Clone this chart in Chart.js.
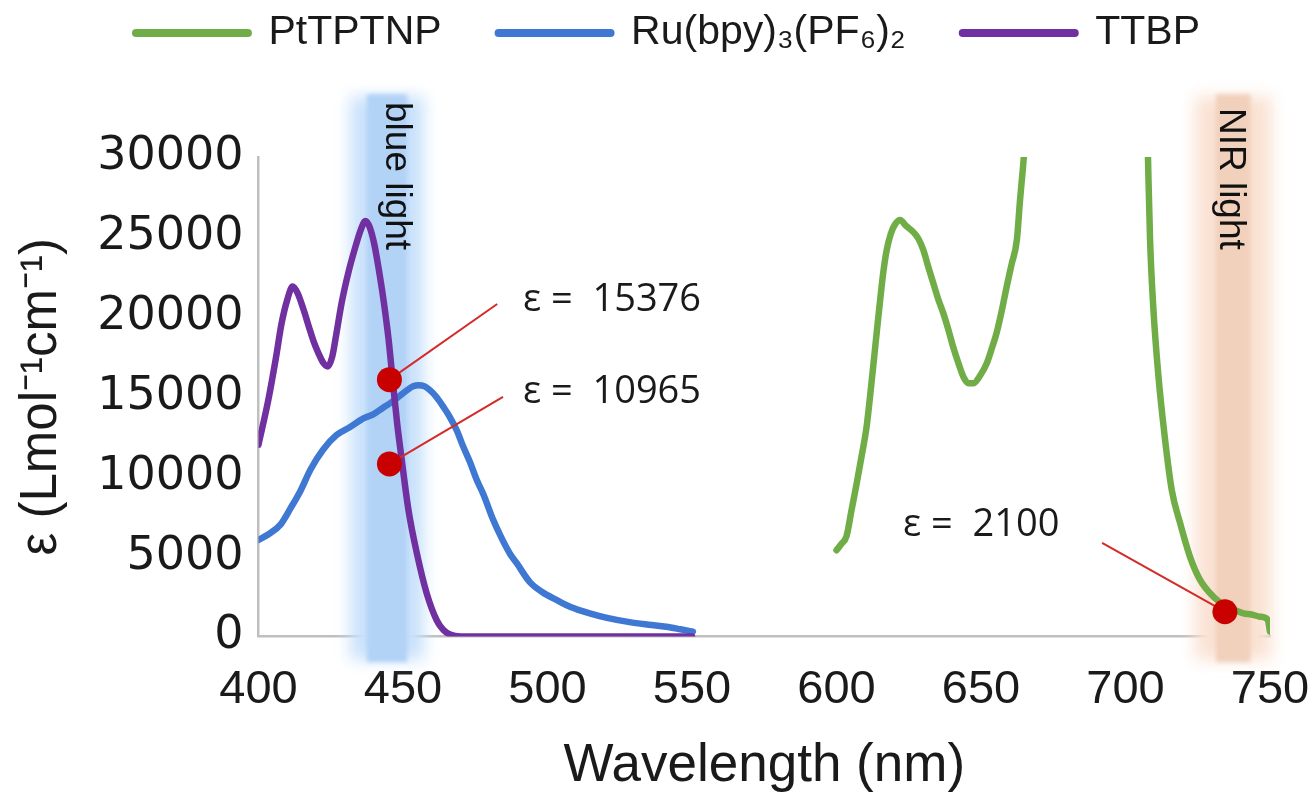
<!DOCTYPE html>
<html>
<head>
<meta charset="utf-8">
<script src="https://cdn.jsdelivr.net/npm/chart.js@4.4.1/dist/chart.umd.min.js"></script>
<style>
html,body{margin:0;padding:0;background:#fff;overflow:hidden}
#wrap{width:1314px;height:795px;position:relative}
</style>
</head>
<body>
<div id="wrap"><canvas id="c" width="1314" height="795"></canvas></div>
<script>
// ---------- data ----------
const seriesNames = ['PtTPTNP', 'Ru(bpy)\u2083(PF\u2086)\u2082', 'TTBP'];

const pttptnpWavelength = [600, 601.5, 603.5, 605.2, 607, 608.7, 610.4, 611.6, 612.7, 613.9, 615.1, 616.2, 617.4, 618.8, 620.3, 622, 624, 626.6, 628.3, 630, 631.8, 633.5, 635.2, 637, 638.7, 640.4, 642.2, 643.9, 645.6, 647.3, 649.6, 652, 653.7, 655.4, 657.2, 658.9, 660.6, 662.4, 663.5, 664.5, 665.5, 686, 707.6, 707.9, 708.5, 709.6, 711.3, 713.7, 716, 718.9, 722.3, 725.8, 730.4, 735, 737.8, 740.8, 743.6, 746.5, 749.2, 750];
const pttptnpEpsilon = [5400, 5750, 6300, 7900, 9600, 11300, 13100, 15000, 16900, 19000, 21050, 22800, 24200, 25200, 25800, 26060, 25700, 25300, 24900, 24200, 23100, 22100, 21100, 20200, 19200, 18100, 17100, 16250, 15850, 15840, 16300, 17100, 18000, 19000, 20400, 21900, 23300, 24800, 27300, 29300, 31500, null, 31500, 29000, 24800, 20650, 16480, 12300, 9170, 7090, 5000, 3540, 2490, 1870, 1650, 1450, 1380, 1240, 1050, 300];

const ruWavelength = [400, 403.5, 407.6, 411, 414.5, 418, 422.4, 427, 431.7, 436.3, 439.7, 443, 445.6, 448.5, 451.3, 453.5, 455.3, 457.5, 459.4, 461.5, 464, 466.3, 468.6, 470.9, 473.2, 475.5, 477.8, 481.2, 484, 487, 489.3, 493.9, 498, 503.1, 508, 514.6, 521, 528.4, 535, 541.1, 546, 550.3];
const ruEpsilon = [6050, 6400, 7000, 8000, 9110, 10450, 11700, 12600, 13100, 13650, 13900, 14300, 14600, 15000, 15400, 15650, 15720, 15650, 15400, 15000, 14360, 13700, 12900, 11850, 10900, 9800, 8900, 7300, 6200, 5180, 4600, 3400, 2800, 2290, 1850, 1450, 1150, 900, 740, 610, 450, 300];

const ttbpWavelength = [400, 403.4, 406, 408, 410, 411.8, 413.5, 415.5, 417.4, 419, 420.8, 422.5, 424, 425.5, 427, 428.8, 431, 433.4, 435.5, 437, 438.5, 440, 441.5, 443.3, 445, 446.5, 448, 449.6, 451.9, 454.8, 458.2, 461.7, 464, 466.3, 470, 480, 500, 525, 550];
const ttbpEpsilon = [12000, 14800, 17400, 19600, 21100, 21900, 21500, 20500, 19400, 18500, 17700, 17100, 16900, 17500, 19000, 20900, 22700, 24300, 25500, 26000, 25600, 24600, 23100, 21000, 18600, 15900, 13300, 11000, 7900, 5200, 2700, 1000, 400, 120, 0, 0, 0, 0, 0];

const xTickValues = [400, 450, 500, 550, 600, 650, 700, 750];
const yTickValues = [0, 5000, 10000, 15000, 20000, 25000, 30000];

// highlighted points and their callouts
const markerWavelength = [445.3, 445.3, 734.4];
const markerEpsilon = [16070, 10800, 1550];
const leaderWavelength = [482.6, 484.6, 691.9];
const leaderEpsilon = [20800, 14990, 5850];
const calloutTexts = ['\u03b5 =  15376', '\u03b5 =  10965', '\u03b5 =  2100'];
const calloutWavelength = [491.5, 491.5, 623.0];
const calloutEpsilon = [21060, 15300, 6980];

// light bands
const bandLabels = ['blue light', 'NIR light'];
const bandCenter = [444.5, 737.3];
const bandCoreHalf = [7, 6];
const bandGlowHalf = [15.5, 16];
const bandTopEpsilon = 34300;
const bandBottomEpsilon = -1970;
const bandLabelWavelength = [447.6, 736.2];
const bandLabelEpsilon = [33440, 33070];

// ---------- chart ----------
const toPoints = (xs, ys) => xs.map((x, i) => ({x: x, y: ys[i]}));
const SANS = "'Liberation Sans', Arial, sans-serif";
const WIDE = "'DejaVu Sans', 'Liberation Sans', sans-serif";

const colors = ['#70AD47', '#3E78D2', '#7030A0'];

const curveDatasets = [
  {label: seriesNames[0], data: toPoints(pttptnpWavelength, pttptnpEpsilon), borderColor: colors[0], order: 4},
  {label: seriesNames[1], data: toPoints(ruWavelength, ruEpsilon), borderColor: colors[1], order: 3},
  {label: seriesNames[2], data: toPoints(ttbpWavelength, ttbpEpsilon), borderColor: colors[2], order: 2}
].map(d => Object.assign(d, {
  type: 'line', borderWidth: 6.5, pointRadius: 0, pointHoverRadius: 0, fill: false,
  cubicInterpolationMode: 'monotone', spanGaps: false, backgroundColor: d.borderColor,
  borderCapStyle: 'round', borderJoinStyle: 'round'
}));

const leaderDatasets = markerWavelength.map((w, i) => ({
  label: 'leader' + i, type: 'line',
  data: [{x: w, y: markerEpsilon[i]}, {x: leaderWavelength[i], y: leaderEpsilon[i]}],
  borderColor: '#D42A2A', borderWidth: 2, pointRadius: 0, pointHoverRadius: 0, order: 1
}));

const markerDataset = {
  label: 'markers', type: 'scatter',
  data: toPoints(markerWavelength, markerEpsilon),
  pointRadius: 12.5, pointHoverRadius: 12.5, pointBackgroundColor: '#C80000',
  pointBorderWidth: 0, borderWidth: 0, showLine: false, order: 0
};

const lightsPlugin = {
  id: 'lights',
  beforeDatasetsDraw(chart) {
    const {ctx, scales: {x, y}} = chart;
    const glowColors = ['rgba(200,225,251,1)', 'rgba(250,226,211,1)'];
    const coreColors = ['rgba(178,210,246,1)', 'rgba(241,208,188,1)'];
    const top = y.getPixelForValue(bandTopEpsilon);
    const bottom = y.getPixelForValue(bandBottomEpsilon);
    bandCenter.forEach((c, i) => {
      const gl = x.getPixelForValue(c - bandGlowHalf[i]);
      const gr = x.getPixelForValue(c + bandGlowHalf[i]);
      const cl = x.getPixelForValue(c - bandCoreHalf[i]);
      const cr = x.getPixelForValue(c + bandCoreHalf[i]);
      ctx.save();
      ctx.filter = 'blur(8px)';
      ctx.fillStyle = glowColors[i];
      ctx.fillRect(gl + 8, top + 8, gr - gl - 16, bottom - top - 16);
      ctx.filter = 'blur(2px)';
      ctx.fillStyle = coreColors[i];
      ctx.fillRect(cl, top + 6, cr - cl, bottom - top - 12);
      ctx.restore();
    });
  },
  afterDatasetsDraw(chart) {
    const {ctx, scales: {x, y}} = chart;
    ctx.save();
    ctx.fillStyle = '#111';
    ctx.font = "37px " + SANS;
    ctx.textAlign = 'left';
    ctx.textBaseline = 'middle';
    bandLabels.forEach((t, i) => {
      ctx.save();
      ctx.translate(x.getPixelForValue(bandLabelWavelength[i]), y.getPixelForValue(bandLabelEpsilon[i]));
      ctx.rotate(Math.PI / 2);
      ctx.fillText(t, 0, 0);
      ctx.restore();
    });
    ctx.font = "38px 'Open Sans', sans-serif";
    ctx.fillStyle = '#1a1a1a';
    calloutTexts.forEach((t, i) => {
      ctx.fillText(t, x.getPixelForValue(calloutWavelength[i]), y.getPixelForValue(calloutEpsilon[i]));
    });
    ctx.restore();
  }
};

new Chart(document.getElementById('c'), {
  type: 'line',
  data: {datasets: [...curveDatasets, ...leaderDatasets, markerDataset]},
  plugins: [lightsPlugin],
  options: {
    responsive: false,
    animation: false,
    events: [],
    layout: {padding: {top: -44.5, left: 66, right: 44, bottom: 0}},
    plugins: {
      tooltip: {enabled: false},
      title: {display: true, text: '', weight: 500, font: {size: 10, lineHeight: 1.2}, padding: {top: 0, bottom: 81.5}},
      legend: {
        display: true, position: 'top',
        labels: {
          usePointStyle: true, pointStyleWidth: 112, padding: 57,
          color: '#1a1a1a',
          font: {family: SANS, size: 41},
          generateLabels: (chart) => chart.data.datasets.slice(0, 3).map((ds, i) => ({
            text: ds.label, fillStyle: ds.borderColor, strokeStyle: ds.borderColor,
            lineWidth: 8, lineCap: 'round', pointStyle: 'line', hidden: false,
            datasetIndex: i, fontColor: '#1a1a1a'
          }))
        }
      }
    },
    scales: {
      x: {
        type: 'linear', min: 400, max: 750,
        afterFit: (s) => { s.height = 158.5; s.paddingLeft = 0; s.paddingRight = 0; },
        afterBuildTicks: (s) => { s.ticks = xTickValues.map(v => ({value: v})); },
        grid: {display: false, drawTicks: false},
        border: {display: true, color: '#BFBFBF', width: 2.5},
        ticks: {color: '#1a1a1a', padding: 25, font: {family: SANS, size: 47, lineHeight: 1.2}, callback: v => String(v)},
        title: {display: true, text: 'Wavelength (nm)', color: '#1a1a1a', font: {family: SANS, size: 53, lineHeight: 1}, padding: {top: 0, bottom: 2}}
      },
      y: {
        type: 'linear', min: 0, max: 30000,
        afterFit: (s) => { s.width = 192.5; },
        afterBuildTicks: (s) => { s.ticks = yTickValues.map(v => ({value: v})); },
        grid: {display: false, drawTicks: false},
        border: {display: true, color: '#BFBFBF', width: 2.5},
        ticks: {color: '#1a1a1a', padding: 15, font: {family: WIDE, size: 46, lineHeight: 1.2}, callback: v => String(v)},
        title: {display: true, text: '\u03b5 (Lmol\u207b\u00b9cm\u207b\u00b9)', color: '#1a1a1a', font: {family: SANS, size: 51, lineHeight: 1.2}, padding: {top: -54.6, bottom: 0}}
      }
    }
  }
});
</script>
</body>
</html>
